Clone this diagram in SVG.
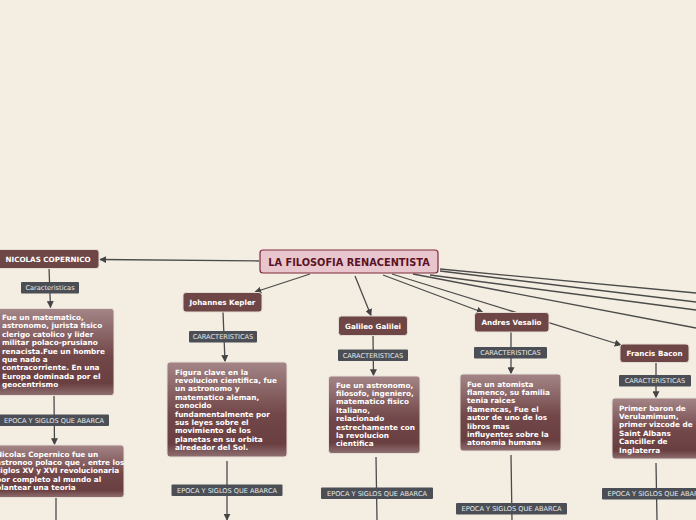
<svg xmlns="http://www.w3.org/2000/svg" width="696" height="520" viewBox="0 0 696 520">
<style>
.bg{fill:#f4eee2}
.con{stroke:#4b4b4b;stroke-width:1.3;fill:none}
.title{fill:#e9c6cd;stroke:#7c2a3c;stroke-width:1.2}
.titletxt{font-family:"DejaVu Sans",sans-serif;font-weight:bold;font-size:9.8px;fill:#5a1325;text-anchor:middle}
.node{fill:#6f4646;stroke:#e4dcd4;stroke-width:1}
.nodetxt{font-family:"DejaVu Sans",sans-serif;font-weight:bold;font-size:7.2px;fill:#ffffff;text-anchor:middle}
.lab{fill:#4b4f55}
.labtxt{font-family:"DejaVu Sans",sans-serif;font-size:6.6px;fill:#e8e8e8;text-anchor:middle}
.box{fill:url(#g);stroke:#e8e0d8;stroke-width:1}
.boxtxt{font-family:"DejaVu Sans",sans-serif;font-weight:bold;font-size:7.3px;fill:#ffffff}
</style>
<defs>
<linearGradient id="g" x1="0" y1="0" x2="0" y2="1">
<stop offset="0" stop-color="#a48587"/>
<stop offset="0.55" stop-color="#724749"/>
<stop offset="0.86" stop-color="#6a3f41"/>
<stop offset="1" stop-color="#8f7072"/>
</linearGradient>
<marker id="a" viewBox="0 0 10 10" refX="9" refY="5" markerWidth="7" markerHeight="7" markerUnits="userSpaceOnUse" orient="auto">
<path d="M0,0 L10,5 L0,10 z" fill="#444"/>
</marker>
</defs>
<rect class="bg" x="0" y="0" width="696" height="520"/>

<g id="connectors">
<line class="con" x1="259" y1="261" x2="100" y2="259.5" marker-end="url(#a)"/>
<line class="con" x1="310" y1="274" x2="255" y2="292" marker-end="url(#a)"/>
<line class="con" x1="355" y1="276" x2="371" y2="315.5" marker-end="url(#a)"/>
<line class="con" x1="383" y1="275" x2="483" y2="312.5" marker-end="url(#a)"/>
<line class="con" x1="392" y1="274" x2="621" y2="345" marker-end="url(#a)"/>
<line class="con" x1="413" y1="274" x2="696" y2="328"/>
<line class="con" x1="430" y1="275" x2="696" y2="310"/>
<line class="con" x1="440" y1="271" x2="696" y2="302"/>
<line class="con" x1="440" y1="269" x2="696" y2="293"/>

<line class="con" x1="49" y1="268" x2="50.5" y2="307.5" marker-end="url(#a)"/>
<line class="con" x1="54" y1="396" x2="54.5" y2="444.5" marker-end="url(#a)"/>
<line class="con" x1="56" y1="498" x2="56" y2="520"/>

<line class="con" x1="223" y1="312" x2="225" y2="361.5" marker-end="url(#a)"/>
<line class="con" x1="227" y1="461" x2="227" y2="520" marker-end="url(#a)"/>

<line class="con" x1="373" y1="336" x2="373.5" y2="375.5" marker-end="url(#a)"/>
<line class="con" x1="376" y1="457" x2="377" y2="520"/>

<line class="con" x1="511" y1="332" x2="511" y2="373.5" marker-end="url(#a)"/>
<line class="con" x1="511" y1="455" x2="512" y2="520"/>

<line class="con" x1="656" y1="362" x2="656" y2="397.5" marker-end="url(#a)"/>
<line class="con" x1="656" y1="463" x2="657" y2="520"/>
</g>

<g id="title">
<rect class="title" x="260" y="250" width="178" height="23" rx="3"/>
<text class="titletxt" x="349" y="265.5">LA FILOSOFIA RENACENTISTA</text>
</g>

<g id="copernico">
<rect class="node" x="-5" y="249.5" width="104" height="19" rx="3"/>
<text class="nodetxt" x="48" y="261.5">NICOLAS COPERNICO</text>
</g>
<g id="copernico-lab1">
<rect class="lab" x="21" y="282" width="58" height="11.5" rx="1"/>
<text class="labtxt" x="50" y="290.3">Caracteristicas</text>
</g>
<g id="copernico-box1">
<rect class="box" x="-5" y="308.5" width="119" height="87" rx="3"/>
<text class="boxtxt">
<tspan x="2" y="320">Fue un matematico,</tspan>
<tspan x="2" y="328.4">astronomo, jurista fisico</tspan>
<tspan x="2" y="336.8">clerigo catolico y lider</tspan>
<tspan x="2" y="345.2">militar polaco-prusiano</tspan>
<tspan x="2" y="353.6">renacista.Fue un hombre</tspan>
<tspan x="2" y="362">que nado a</tspan>
<tspan x="2" y="370.4">contracorriente. En una</tspan>
<tspan x="2" y="378.8">Europa dominada por el</tspan>
<tspan x="2" y="387.2">geocentrismo</tspan>
</text>
</g>
<g id="copernico-lab2">
<rect class="lab" x="-2" y="414.5" width="111" height="11.5" rx="1"/>
<text class="labtxt" x="54" y="422.8">EPOCA Y SIGLOS QUE ABARCA</text>
</g>
<g id="copernico-box2">
<rect class="box" x="-8" y="445" width="132" height="52.5" rx="3"/>
<text class="boxtxt">
<tspan x="-4" y="456.5">Nicolas Copernico fue un</tspan>
<tspan x="-4" y="464.9">astronoo polaco que , entre los</tspan>
<tspan x="-4" y="473.3">siglos XV y XVI revolucionaria</tspan>
<tspan x="-4" y="481.7">por completo al mundo al</tspan>
<tspan x="-4" y="490.1">plantear una teoria</tspan>
</text>
</g>

<g id="kepler">
<rect class="node" x="183" y="292.5" width="79" height="19.5" rx="3"/>
<text class="nodetxt" x="222.5" y="305">Johannes Kepler</text>
</g>
<g id="kepler-lab1">
<rect class="lab" x="189" y="331" width="68" height="11.5" rx="1"/>
<text class="labtxt" x="223" y="339.3">CARACTERISTICAS</text>
</g>
<g id="kepler-box1">
<rect class="box" x="167" y="362" width="120" height="95" rx="3"/>
<text class="boxtxt">
<tspan x="175" y="374.5">Figura clave en la</tspan>
<tspan x="175" y="382.9">revolucion cientifica, fue</tspan>
<tspan x="175" y="391.3">un astronomo y</tspan>
<tspan x="175" y="399.7">matematico aleman,</tspan>
<tspan x="175" y="408.1">conocido</tspan>
<tspan x="175" y="416.5">fundamentalmente por</tspan>
<tspan x="175" y="424.9">sus leyes sobre el</tspan>
<tspan x="175" y="433.3">movimiento de los</tspan>
<tspan x="175" y="441.7">planetas en su orbita</tspan>
<tspan x="175" y="450.1">alrededor del Sol.</tspan>
</text>
</g>
<g id="kepler-lab2">
<rect class="lab" x="171.5" y="484.5" width="111" height="11.5" rx="1"/>
<text class="labtxt" x="227" y="492.8">EPOCA Y SIGLOS QUE ABARCA</text>
</g>

<g id="galileo">
<rect class="node" x="338.5" y="316" width="69" height="19.5" rx="3"/>
<text class="nodetxt" x="373" y="328.5">Galileo Galilei</text>
</g>
<g id="galileo-lab1">
<rect class="lab" x="338" y="349.5" width="70" height="11.5" rx="1"/>
<text class="labtxt" x="373" y="357.8">CARACTERISTICAS</text>
</g>
<g id="galileo-box1">
<rect class="box" x="328.5" y="376" width="91.5" height="77.5" rx="3"/>
<text class="boxtxt">
<tspan x="336" y="387.5">Fue un astronomo,</tspan>
<tspan x="336" y="395.9">filosofo, ingeniero,</tspan>
<tspan x="336" y="404.3">matematico fisico</tspan>
<tspan x="336" y="412.7">Italiano,</tspan>
<tspan x="336" y="421.1">relacionado</tspan>
<tspan x="336" y="429.5">estrechamente con</tspan>
<tspan x="336" y="437.9">la revolucion</tspan>
<tspan x="336" y="446.3">cientifica</tspan>
</text>
</g>
<g id="galileo-lab2">
<rect class="lab" x="321" y="487.5" width="112" height="11.5" rx="1"/>
<text class="labtxt" x="377" y="495.8">EPOCA Y SIGLOS QUE ABARCA</text>
</g>

<g id="vesalio">
<rect class="node" x="474.5" y="312.5" width="74.5" height="19.5" rx="3"/>
<text class="nodetxt" x="511.5" y="325">Andres Vesalio</text>
</g>
<g id="vesalio-lab1">
<rect class="lab" x="474" y="347" width="73" height="11.5" rx="1"/>
<text class="labtxt" x="510.5" y="355.3">CARACTERISTICAS</text>
</g>
<g id="vesalio-box1">
<rect class="box" x="460" y="374" width="101" height="77" rx="3"/>
<text class="boxtxt">
<tspan x="467" y="386.5">Fue un atomista</tspan>
<tspan x="467" y="394.9">flamenco, su familia</tspan>
<tspan x="467" y="403.3">tenia raices</tspan>
<tspan x="467" y="411.7">flamencas, Fue el</tspan>
<tspan x="467" y="420.1">autor de uno de los</tspan>
<tspan x="467" y="428.5">libros mas</tspan>
<tspan x="467" y="436.9">influyentes sobre la</tspan>
<tspan x="467" y="445.3">atonomia humana</tspan>
</text>
</g>
<g id="vesalio-lab2">
<rect class="lab" x="456" y="503" width="111" height="11.5" rx="1"/>
<text class="labtxt" x="511.5" y="511.3">EPOCA Y SIGLOS QUE ABARCA</text>
</g>

<g id="bacon">
<rect class="node" x="620" y="344" width="69" height="18.5" rx="3"/>
<text class="nodetxt" x="654.5" y="356">Francis Bacon</text>
</g>
<g id="bacon-lab1">
<rect class="lab" x="619" y="375" width="72" height="11.5" rx="1"/>
<text class="labtxt" x="655" y="383.3">CARACTERISTICAS</text>
</g>
<g id="bacon-box1">
<rect class="box" x="612" y="398" width="92" height="61" rx="3"/>
<text class="boxtxt">
<tspan x="619" y="410.5">Primer baron de</tspan>
<tspan x="619" y="418.9">Verulamimum,</tspan>
<tspan x="619" y="427.3">primer vizcode de</tspan>
<tspan x="619" y="435.7">Saint Albans</tspan>
<tspan x="619" y="444.1">Canciller de</tspan>
<tspan x="619" y="452.5">Inglaterra</tspan>
</text>
</g>
<g id="bacon-lab2">
<rect class="lab" x="602" y="488" width="111" height="11.5" rx="1"/>
<text class="labtxt" x="657.5" y="496.3">EPOCA Y SIGLOS QUE ABARCA</text>
</g>
</svg>
